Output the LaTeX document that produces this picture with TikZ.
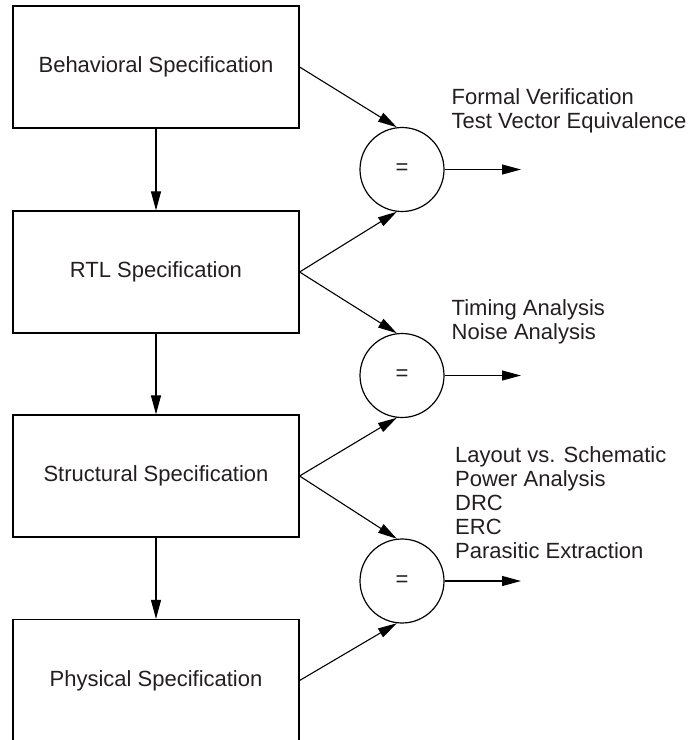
\documentclass[tikz,border=0pt]{standalone}
\usepackage{fontspec}
\setmainfont{Liberation Sans}
\usetikzlibrary{arrows.meta}
\definecolor{ink}{RGB}{35,31,32}
\begin{document}
\begin{tikzpicture}[x=1pt,y=-1pt,
  every node/.style={font=\fontsize{22}{24}\selectfont, text=ink},
  specbox/.style={draw=black, line width=1.2pt, minimum width=286pt, minimum height=122pt, inner sep=0pt},
  eqcirc/.style={draw=black, line width=1.2pt, circle, minimum size=84pt, inner sep=0pt},
  arr/.style={line width=1.1pt, -{Triangle[length=19pt,width=10pt]}},
  notes/.style={align=left, anchor=base west, inner sep=0pt}]
\useasboundingbox (0,0) rectangle (698,740);

\node[specbox] (b1) at (156,67) {Behavioral Specification};
\node[specbox] (b2) at (156,272) {RTL Specification};
\node[specbox] (b3) at (156,476) {Structural Specification};
\node[specbox] (b4) at (156,680.5) {Physical Specification};

\node[eqcirc] (c1) at (402,169.5) {=};
\node[eqcirc] (c2) at (402,375.5) {=};
\node[eqcirc] (c3) at (402,581) {=};

\coordinate (o1) at (521,169.5);
\coordinate (o2) at (521,375.5);
\coordinate (o3) at (521,581);

\draw[arr] (b1.south) -- (b2.north);
\draw[arr] (b2.south) -- (b3.north);
\draw[arr] (b3.south) -- (b4.north);

\draw[arr] (b1.east) -- (c1.97);
\draw[arr] (b2.east) -- (c1.263);
\draw[arr] (b2.east) -- (c2.97);
\draw[arr] (b3.east) -- (c2.263);
\draw[arr] (b3.east) -- (c3.97);
\draw[arr] (b4.east) -- (c3.263);

\draw[arr] (c1.east) -- (o1);
\draw[arr] (c2.east) -- (o2);
\draw[arr] (c3.east) -- (o3);

\node[notes] (t1) at (451.5,128) {Formal Verification\\Test Vector Equivalence};
\node[notes] (t2) at (451.5,339) {Timing Analysis\\Noise Analysis};
\node[notes] (t3) at (455,558) {Layout vs. Schematic\\Power Analysis\\DRC\\ERC\\Parasitic Extraction};
\end{tikzpicture}
\end{document}
